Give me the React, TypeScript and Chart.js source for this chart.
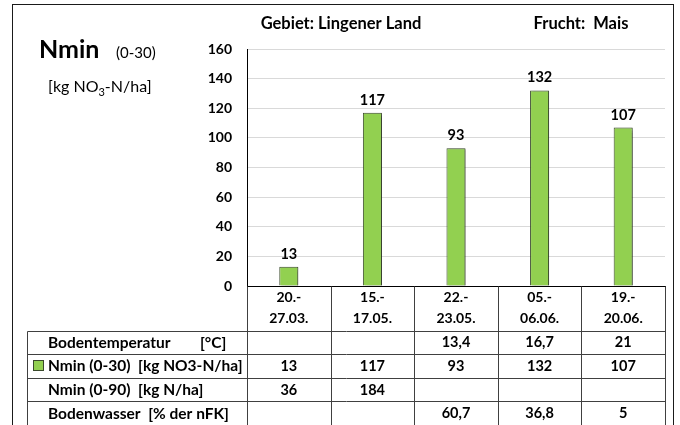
import React, { useEffect, useRef } from "react";
import { Chart, registerables } from "chart.js";

Chart.register(...registerables);

// ---- data ----
const categories: string[][] = [
  ["20.-", "27.03."],
  ["15.-", "17.05."],
  ["22.-", "23.05."],
  ["05.-", "06.06."],
  ["19.-", "20.06."],
];
const nmin030: number[] = [13, 117, 93, 132, 107];
const bodentemperatur: (number | null)[] = [null, null, 13.4, 16.7, 21];
const nmin090: (number | null)[] = [36, 184, null, null, null];
const bodenwasser: (number | null)[] = [null, null, 60.7, 36.8, 5];

const yMin = 0;
const yMax = 160;
const yStep = 20;

const titleArea = "Gebiet: Lingener Land";
const titleCrop = "Frucht:  Mais";
const mainTitle = "Nmin";
const mainTitleSuffix = "(0-30)";
const unitParts = ["[kg NO", "3", "-N/ha]"];

const rowLabels: string[] = [
  "Bodentemperatur",
  "Nmin (0-30)  [kg NO3-N/ha]",
  "Nmin (0-90)  [kg N/ha]",
  "Bodenwasser  [% der nFK]",
];
const rowUnitBodentemp = "[°C]";
const tableRows: (number | null)[][] = [bodentemperatur, nmin030, nmin090, bodenwasser];

const FONT = "Lato, 'Open Sans', sans-serif";
const GREEN = "#92D050";
const GREEN_BORDER = "#3a4a2c";

const fmt = (v: number | null) => (v === null ? "" : String(v).replace(".", ","));

const decorPlugin = {
  id: "decor",
  beforeDatasetsDraw(chart: any) {
    const ctx = chart.ctx;
    ctx.save();
    ctx.shadowColor = "rgba(0,0,0,0.35)";
    ctx.shadowOffsetX = 2;
    ctx.shadowOffsetY = 1;
    ctx.shadowBlur = 1.5;
  },
  afterDatasetsDraw(chart: any) {
    const ctx = chart.ctx;
    ctx.restore();
    // data labels
    const meta = chart.getDatasetMeta(0);
    ctx.save();
    ctx.fillStyle = "#000";
    ctx.font = `bold 14.5px ${FONT}`;
    ctx.textAlign = "center";
    ctx.textBaseline = "alphabetic";
    meta.data.forEach((bar: any, i: number) => {
      ctx.fillText(String(nmin030[i]), bar.x, bar.y - 8);
    });
    ctx.restore();
  },
  afterDraw(chart: any) {
    const { ctx, chartArea, scales } = chart;
    const xs = scales.x;
    const n = categories.length;
    const half = (xs.getPixelForValue(1) - xs.getPixelForValue(0)) / 2;
    const bounds: number[] = [];
    for (let i = 0; i < n; i++) bounds.push(xs.getPixelForValue(i) - half);
    bounds.push(xs.getPixelForValue(n - 1) + half);
    const crisp = (v: number) => Math.round(v) + 0.5;

    const axisY = chartArea.bottom;
    const rowTop = axisY + 44.5;
    const rowH = 23.6;
    const tableLeft = 27;
    const bottom = chart.height + 2;

    ctx.save();
    // outer border
    ctx.strokeStyle = "#1a1a1a";
    ctx.lineWidth = 1;
    ctx.strokeRect(12.5, 4.5, 661, 440);

    // table lines
    ctx.strokeStyle = "#404040";
    ctx.beginPath();
    bounds.forEach((b) => {
      ctx.moveTo(crisp(b), crisp(axisY));
      ctx.lineTo(crisp(b), bottom);
    });
    ctx.moveTo(crisp(tableLeft), crisp(rowTop));
    ctx.lineTo(crisp(tableLeft), bottom);
    for (let r = 0; r < tableRows.length; r++) {
      const y = crisp(rowTop + r * rowH);
      ctx.moveTo(crisp(tableLeft), y);
      ctx.lineTo(crisp(bounds[n]), y);
    }
    ctx.stroke();

    // category (date) labels
    ctx.fillStyle = "#000";
    ctx.textAlign = "center";
    ctx.textBaseline = "middle";
    ctx.font = `bold 14px ${FONT}`;
    categories.forEach((lines, i) => {
      lines.forEach((t, j) => {
        ctx.fillText(t, xs.getPixelForValue(i), axisY + 11.5 + j * 21);
      });
    });

    // table text
    tableRows.forEach((row, r) => {
      const cy = rowTop + r * rowH + rowH / 2 + 0.5;
      ctx.textAlign = "left";
      ctx.font = `bold 15.5px ${FONT}`;
      ctx.fillText(rowLabels[r], 48, cy);
      if (r === 0) ctx.fillText(rowUnitBodentemp, 200, cy);
      ctx.textAlign = "center";
      ctx.font = `bold 14.5px ${FONT}`;
      row.forEach((v, i) => {
        ctx.fillText(fmt(v), xs.getPixelForValue(i), cy);
      });
    });
    // legend key for Nmin (0-30) row
    const ky = rowTop + rowH + rowH / 2;
    ctx.fillStyle = GREEN;
    ctx.fillRect(33, Math.round(ky - 5.5), 11, 11);
    ctx.strokeStyle = GREEN_BORDER;
    ctx.strokeRect(33.5, Math.round(ky - 5.5) + 0.5, 10, 10);

    // titles
    ctx.fillStyle = "#000";
    ctx.textBaseline = "alphabetic";
    ctx.textAlign = "center";
    ctx.font = `bold 16.5px ${FONT}`;
    ctx.fillText(titleArea, 341, 29);
    ctx.fillText(titleCrop, 581, 29);

    ctx.textAlign = "left";
    ctx.font = `bold 25px ${FONT}`;
    ctx.fillText(mainTitle, 39, 58);
    ctx.font = `15px ${FONT}`;
    ctx.fillText(mainTitleSuffix, 116, 58);

    let ux = 48;
    ctx.font = `16px ${FONT}`;
    ctx.fillText(unitParts[0], ux, 92);
    ux += ctx.measureText(unitParts[0]).width;
    ctx.font = `11px ${FONT}`;
    ctx.fillText(unitParts[1], ux, 96);
    ux += ctx.measureText(unitParts[1]).width;
    ctx.font = `16px ${FONT}`;
    ctx.fillText(unitParts[2], ux, 92);
    ctx.restore();
  },
};

export default function App() {
  const ref = useRef<HTMLCanvasElement | null>(null);
  useEffect(() => {
    if (!ref.current) return;
    const chart = new Chart(ref.current, {
      type: "bar",
      data: {
        labels: categories.map((c) => c.join(" ")),
        datasets: [
          {
            label: "Nmin (0-30)  [kg NO3-N/ha]",
            data: nmin030,
            backgroundColor: GREEN,
            borderColor: GREEN_BORDER,
            borderWidth: 1,
            categoryPercentage: 1,
            barPercentage: 0.228,
          },
        ],
      },
      options: {
        animation: false,
        responsive: false,
        maintainAspectRatio: false,
        layout: { padding: { left: 0, right: 15, top: 49, bottom: 0 } },
        plugins: {
          legend: { display: false },
          tooltip: { enabled: false },
          title: { display: false },
        },
        scales: {
          x: {
            grid: { display: false },
            border: { display: true, color: "#000", width: 1 },
            ticks: { display: false },
            afterFit: (s: any) => {
              s.height = 139;
            },
          },
          y: {
            min: yMin,
            max: yMax,
            ticks: {
              stepSize: yStep,
              color: "#000",
              padding: 15,
              font: { family: FONT, size: 14, weight: "bold" },
            },
            grid: { color: "#d9d9d9", drawTicks: false },
            border: { display: true, color: "#000", width: 1 },
            afterFit: (s: any) => {
              s.width = 247;
            },
          },
        },
      } as any,
      plugins: [decorPlugin],
    });
    return () => chart.destroy();
  }, []);
  return (
    <div style={{ position: "fixed", left: 0, top: 0, width: 680, height: 425, background: "#fff" }}>
      <canvas ref={ref} width={680} height={425} style={{ width: 680, height: 425, display: "block" }} />
    </div>
  );
}
